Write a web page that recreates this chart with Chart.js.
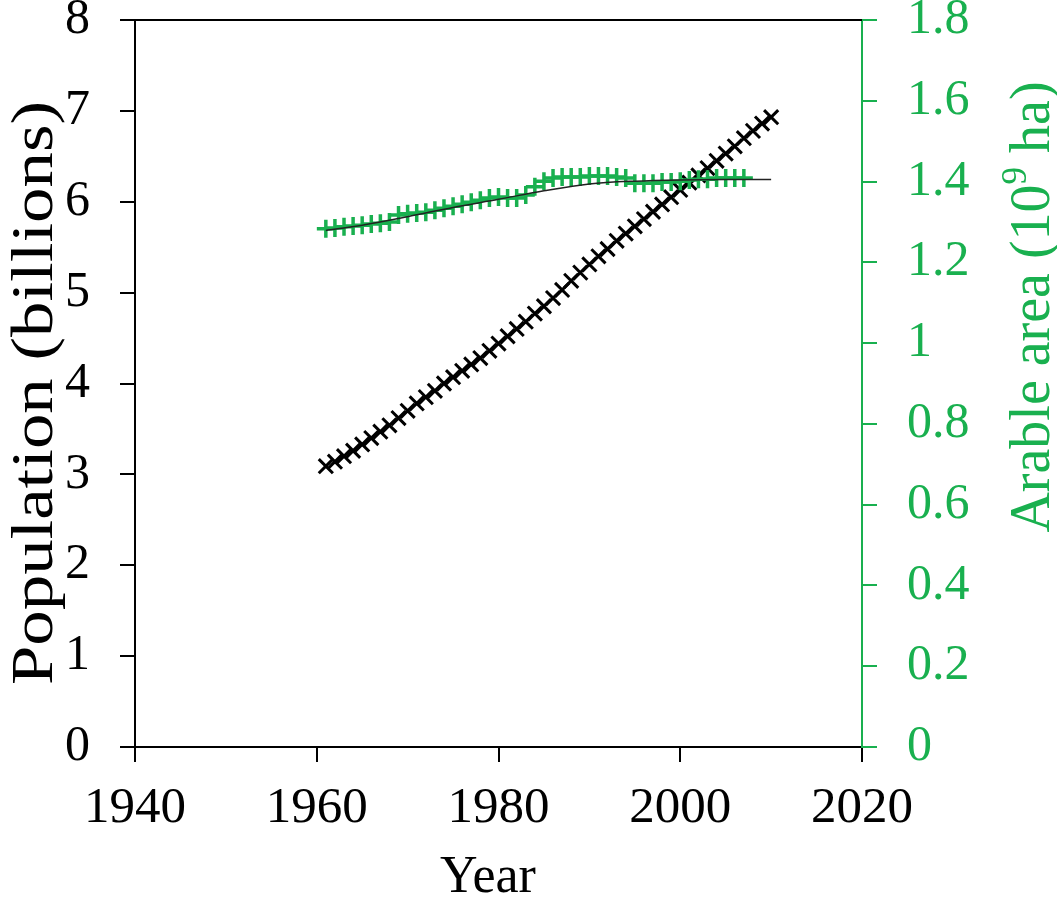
<!DOCTYPE html>
<html>
<head>
<meta charset="utf-8">
<script src="https://cdn.jsdelivr.net/npm/chart.js@4.4.1/dist/chart.umd.min.js"></script>
<style>
html,body{margin:0;padding:0;background:#fff;}
#wrap{width:1057px;height:904px;position:relative;}
</style>
</head>
<body>
<div id="wrap"><canvas id="c" width="1057" height="904"></canvas></div>
<script>
const popYears = [1961,1962,1963,1964,1965,1966,1967,1968,1969,1970,1971,1972,1973,1974,1975,1976,1977,1978,1979,1980,1981,1982,1983,1984,1985,1986,1987,1988,1989,1990,1991,1992,1993,1994,1995,1996,1997,1998,1999,2000,2001,2002,2003,2004,2005,2006,2007,2008,2009,2010];
const population = [3.09,3.14,3.20,3.26,3.33,3.40,3.47,3.54,3.62,3.70,3.78,3.85,3.92,4.00,4.07,4.14,4.21,4.28,4.36,4.44,4.52,4.60,4.68,4.77,4.85,4.94,5.03,5.13,5.22,5.31,5.40,5.48,5.57,5.65,5.73,5.81,5.89,5.97,6.05,6.13,6.21,6.29,6.37,6.45,6.53,6.61,6.70,6.78,6.86,6.93];

const arableYears = [1961,1962,1963,1964,1965,1966,1967,1968,1969,1970,1971,1972,1973,1974,1975,1976,1977,1978,1979,1980,1981,1982,1983,1984,1985,1986,1987,1988,1989,1990,1991,1992,1993,1994,1995,1996,1997,1998,1999,2000,2001,2002,2003,2004,2005,2006,2007];
const arable = [1.283,1.285,1.288,1.290,1.292,1.295,1.297,1.300,1.317,1.320,1.322,1.324,1.329,1.334,1.339,1.344,1.349,1.354,1.359,1.362,1.359,1.359,1.367,1.387,1.401,1.409,1.411,1.411,1.411,1.414,1.414,1.414,1.411,1.409,1.396,1.396,1.396,1.399,1.399,1.401,1.404,1.406,1.406,1.409,1.409,1.409,1.409];

const arableFitYears = [1961,1965,1970,1975,1980,1985,1990,1995,2000,2005,2010];
const arableFit = [1.279,1.292,1.313,1.336,1.356,1.377,1.394,1.401,1.404,1.405,1.405];

const xTicks = [1940,1960,1980,2000,2020];
const xTickLabels = ['1940','1960','1980','2000','2020'];
const leftTickLabels = ['0','1','2','3','4','5','6','7','8'];
const rightTickLabels = ['0','0.2','0.4','0.6','0.8','1','1.2','1.4','1.6','1.8'];

const xTitle = 'Year';
const leftTitle = 'Population (billions)';
const rightTitleParts = ['Arable area (10', '9', ' ha)'];

const GREEN = '#19b04f';
const FONT = '"Liberation Serif", "Times New Roman", serif';

const pts = (xs, ys) => xs.map((x, i) => ({x: x, y: ys[i]}));

const framePlugin = {
  id: 'frame',
  afterDraw(chart) {
    const ctx = chart.ctx;
    const a = chart.chartArea;
    ctx.save();
    ctx.strokeStyle = '#000';
    ctx.lineWidth = 2;
    ctx.beginPath();
    ctx.moveTo(a.left, a.top);
    ctx.lineTo(a.right, a.top);
    ctx.stroke();
    ctx.fillStyle = '#000';
    ctx.textAlign = 'center';
    ctx.textBaseline = 'middle';
    ctx.font = '52px ' + FONT;
    ctx.fillText(xTitle, 488, 878);
    ctx.save();
    ctx.translate(36, 393);
    ctx.rotate(-Math.PI / 2);
    ctx.scale(1.18, 1);
    ctx.font = '60px ' + FONT;
    ctx.fillText(leftTitle, 0, 0);
    ctx.restore();
    ctx.save();
    ctx.translate(1030, 307);
    ctx.rotate(-Math.PI / 2);
    ctx.fillStyle = GREEN;
    const big = '56px ' + FONT, small = '35px ' + FONT;
    ctx.font = big; const w1 = ctx.measureText(rightTitleParts[0]).width; const w3 = ctx.measureText(rightTitleParts[2]).width;
    ctx.font = small; const w2 = ctx.measureText(rightTitleParts[1]).width;
    let x = -(w1 + w2 + w3) / 2;
    ctx.textAlign = 'left';
    ctx.textBaseline = 'alphabetic';
    ctx.font = big; ctx.fillText(rightTitleParts[0], x, 19); x += w1;
    ctx.font = small; ctx.fillText(rightTitleParts[1], x, -4); x += w2;
    ctx.font = big; ctx.fillText(rightTitleParts[2], x, 19);
    ctx.restore();
    ctx.restore();
  }
};

function fixV(w) { return function (s) { s.width = w; s.paddingTop = 0; s.paddingBottom = 0; }; }

new Chart(document.getElementById('c'), {
  type: 'line',
  data: {
    datasets: [
      {
        label: 'Population',
        data: pts(popYears, population),
        yAxisID: 'y',
        showLine: true,
        borderColor: '#444',
        borderWidth: 1,
        pointStyle: 'crossRot',
        pointRadius: 10,
        pointBorderWidth: 3,
        pointBorderColor: '#000',
        pointBackgroundColor: '#000',
        fill: false,
        order: 2
      },
      {
        label: 'Arable area',
        data: pts(arableYears, arable),
        yAxisID: 'y2',
        showLine: false,
        pointStyle: 'cross',
        pointRadius: 9,
        pointBorderWidth: 3.5,
        pointBorderColor: GREEN,
        borderColor: GREEN,
        fill: false,
        order: 1
      },
      {
        label: 'Arable fit',
        data: pts(arableFitYears, arableFit),
        yAxisID: 'y2',
        showLine: true,
        borderColor: '#222',
        borderWidth: 1.5,
        pointRadius: 0,
        cubicInterpolationMode: 'monotone',
        fill: false,
        order: 0
      }
    ]
  },
  options: {
    responsive: false,
    animation: false,
    devicePixelRatio: 1,
    layout: { padding: { top: 20, left: 0, right: 0, bottom: 0 } },
    plugins: { legend: { display: false }, tooltip: { enabled: false } },
    scales: {
      x: {
        type: 'linear',
        min: 1940, max: 2020,
        afterFit(s) { s.height = 157; s.paddingLeft = 0; s.paddingRight = 0; },
        afterBuildTicks(s) { s.ticks = xTicks.map(v => ({value: v})); },
        ticks: { color: '#000', font: { family: FONT, size: 51 }, padding: 16, maxRotation: 0, autoSkip: false, callback: (v, i) => xTickLabels[i] },
        grid: { display: true, drawOnChartArea: false, drawTicks: true, tickLength: 15, color: '#000', lineWidth: 2 },
        border: { display: true, color: '#000', width: 2 }
      },
      y: {
        type: 'linear', position: 'left',
        min: 0, max: 8,
        afterFit: fixV(135),
        afterBuildTicks(s) { s.ticks = leftTickLabels.map((t, i) => ({value: i})); },
        ticks: { color: '#000', font: { family: FONT, size: 50 }, padding: 30, callback: (v, i) => leftTickLabels[i] },
        grid: { display: true, drawOnChartArea: false, drawTicks: true, tickLength: 15, color: '#000', lineWidth: 2 },
        border: { display: true, color: '#000', width: 2 }
      },
      y2: {
        type: 'linear', position: 'right',
        min: 0, max: 1.8,
        afterFit: fixV(195),
        afterBuildTicks(s) { s.ticks = rightTickLabels.map((t) => ({value: parseFloat(t)})); },
        ticks: { color: GREEN, font: { family: FONT, size: 50 }, padding: 30, callback: (v, i) => rightTickLabels[i] },
        grid: { display: true, drawOnChartArea: false, drawTicks: true, tickLength: 15, color: GREEN, lineWidth: 2 },
        border: { display: true, color: GREEN, width: 2 }
      }
    }
  },
  plugins: [framePlugin]
});
</script>
</body>
</html>
